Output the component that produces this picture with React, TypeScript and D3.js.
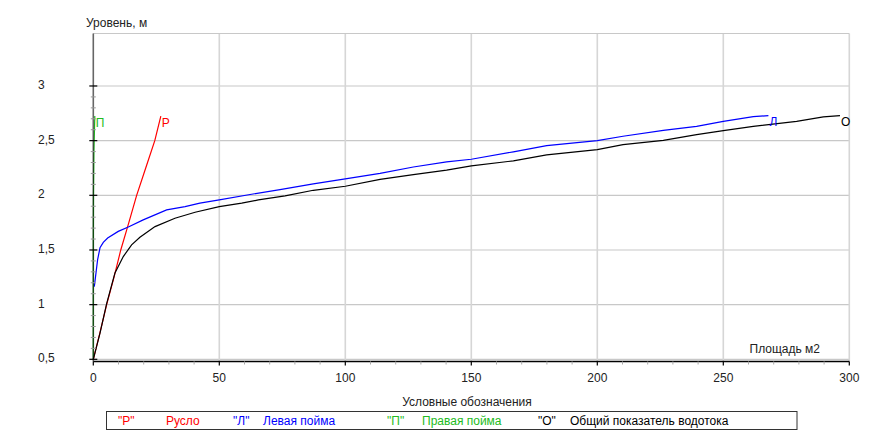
import React from "react";
import * as d3 from "d3";

// Площадь живого сечения (м2) в зависимости от уровня воды (м)
const channelArea = [0, 2.6, 5.3, 8.2, 10.9, 14.1, 17.2, 20.8, 24.4, 26.8];
const channelLevel = [0.5, 0.74, 1.0, 1.25, 1.5, 1.75, 2.0, 2.25, 2.5, 2.725];

const leftArea = [0.4, 1.07, 1.7, 2.66, 3.97, 5.7, 9.9, 13.9, 19.8, 29.1, 36.4, 42.3, 50, 62.8, 74.1, 87.3, 100, 113.8, 127, 140.2, 150, 166.7, 179.9, 200, 210.2, 226.2, 239.4, 250, 261.9, 267.9];
const leftLevel = [1.165, 1.29, 1.41, 1.52, 1.57, 1.61, 1.67, 1.71, 1.775, 1.867, 1.897, 1.928, 1.958, 2.01, 2.052, 2.105, 2.151, 2.2, 2.259, 2.306, 2.33, 2.398, 2.454, 2.5, 2.54, 2.594, 2.631, 2.677, 2.72, 2.728];

const rightArea = [0, 0.02, 0.08, 0.25, 0.6];
const rightLevel = [0.5, 1.5, 2.0, 2.4, 2.725];

const totalArea = [0, 2.66, 5.3, 8.6, 11.9, 15.2, 18.5, 24.5, 32.4, 40.4, 50, 58.9, 65.5, 76.1, 87.3, 100, 113.8, 127, 140.2, 150, 166.7, 179.9, 200, 210.2, 226.2, 239.4, 250, 261.9, 279.1, 289.7, 296.3];
const totalLevel = [0.5, 0.74, 1.01, 1.29, 1.44, 1.547, 1.617, 1.714, 1.79, 1.845, 1.897, 1.928, 1.958, 1.995, 2.046, 2.083, 2.145, 2.19, 2.23, 2.27, 2.315, 2.37, 2.418, 2.463, 2.503, 2.555, 2.591, 2.631, 2.677, 2.717, 2.728];

const xTicks = [0, 50, 100, 150, 200, 250, 300];
const yTicks = [0.5, 1, 1.5, 2, 2.5, 3];

const seriesCodes = ["Р", "Л", "П", "О"];
const seriesNames = ["Русло", "Левая пойма", "Правая пойма", "Общий показатель водотока"];
const seriesColors = ["#ff0000", "#0000ff", "#22bb22", "#000000"];

const FONT = "'Liberation Sans', Arial, sans-serif";

export default function App() {
  const W = 881;
  const H = 439;
  const left = 93.3;
  const right = 849.3;
  const top = 33.5;
  const bottom = 361.5;

  const x = d3.scaleLinear().domain([0, 300]).range([left, right]);
  const y = d3.scaleLinear().domain([0.48, 3.48]).range([bottom, top]);

  const fmt = (v: number) => d3.format("~g")(v).replace(".", ",");

  const series = [
    { xs: channelArea, ys: channelLevel },
    { xs: leftArea, ys: leftLevel },
    { xs: rightArea, ys: rightLevel },
    { xs: totalArea, ys: totalLevel },
  ];

  const line = d3
    .line<[number, number]>()
    .x((d) => x(d[0]))
    .y((d) => y(d[1]));

  const minorX = d3.range(0, 301, 10).filter((v) => v % 50 !== 0);
  const minorY = d3.range(5, 31, 1).map((v) => v / 10).filter((v) => Math.round(v * 10) % 5 !== 0);

  const legendX = [118, 233, 387, 538];
  const legendNameX = [166, 263, 422, 570];

  return (
    <svg
      width={W}
      height={H}
      style={{ position: "absolute", left: 0, top: 0, background: "#fff" }}
      fontFamily={FONT}
      fontSize={12}
    >
      <rect x={0} y={0} width={W} height={H} fill="#fff" />

      {/* сетка */}
      {yTicks.map((t) => (
        <line key={"gy" + t} x1={left} x2={right} y1={y(t)} y2={y(t)} stroke="#c8c8c8" strokeWidth={1.2} />
      ))}
      {xTicks.slice(1).map((t) => (
        <line key={"gx" + t} x1={x(t)} x2={x(t)} y1={top} y2={bottom} stroke="#d6d6d6" strokeWidth={1.6} />
      ))}
      <line x1={left} x2={right} y1={top} y2={top} stroke="#c8c8c8" strokeWidth={1.2} />

      {/* кривые */}
      {series.map((s, i) => {
        const pts = s.xs.map((v, k) => [v, s.ys[k]] as [number, number]);
        return (
          <path key={"s" + i} d={line(pts) || ""} fill="none" stroke={seriesColors[i]} strokeWidth={1.2} />
        );
      })}

      {/* ось Y */}
      <line x1={left} x2={left} y1={top} y2={bottom} stroke="#000" strokeOpacity={0.6} strokeWidth={1.6} />
      {minorY.map((t) => (
        <line key={"my" + t} x1={left - 2.5} x2={left + 2.5} y1={y(t)} y2={y(t)} stroke="#999" strokeWidth={1} />
      ))}
      {yTicks.map((t) => (
        <g key={"ty" + t}>
          <line x1={left - 4} x2={left + 4} y1={y(t)} y2={y(t)} stroke="#000" strokeWidth={1.2} />
          <text x={38} y={y(t)} dominantBaseline="middle" fill="#222">
            {fmt(t)}
          </text>
        </g>
      ))}
      <text x={86} y={27} fill="#222">Уровень, м</text>

      {/* ось X */}
      <line x1={left} x2={right} y1={bottom} y2={bottom} stroke="#000" strokeWidth={1.5} />
      {minorX.map((t) => (
        <line key={"mx" + t} x1={x(t)} x2={x(t)} y1={bottom} y2={bottom + 3} stroke="#aaa" strokeWidth={1} />
      ))}
      {xTicks.map((t) => (
        <g key={"tx" + t}>
          <line x1={x(t)} x2={x(t)} y1={bottom} y2={bottom + 4} stroke="#000" strokeWidth={1.2} />
          <text x={x(t)} y={382} textAnchor="middle" fill="#222">
            {fmt(t)}
          </text>
        </g>
      ))}
      <text x={820} y={352.5} textAnchor="end" fill="#222">Площадь м2</text>

      {/* подписи кривых */}
      {series.map((s, i) => {
        const n = s.xs.length - 1;
        return (
          <text key={"lab" + i} x={x(s.xs[n]) + 1} y={y(s.ys[n]) + 10.5} fill={seriesColors[i]}>
            {seriesCodes[i]}
          </text>
        );
      })}

      {/* легенда */}
      <text x={467} y={406} textAnchor="middle" fill="#222">Условные обозначения</text>
      <rect x={106.5} y={411.5} width={690.5} height={18} fill="#fff" stroke="#333" strokeWidth={1} />
      {seriesCodes.map((c, i) => (
        <g key={"lg" + i} fill={seriesColors[i]}>
          <text x={legendX[i]} y={425}>{`"${c}"`}</text>
          <text x={legendNameX[i]} y={425}>{seriesNames[i]}</text>
        </g>
      ))}
    </svg>
  );
}
